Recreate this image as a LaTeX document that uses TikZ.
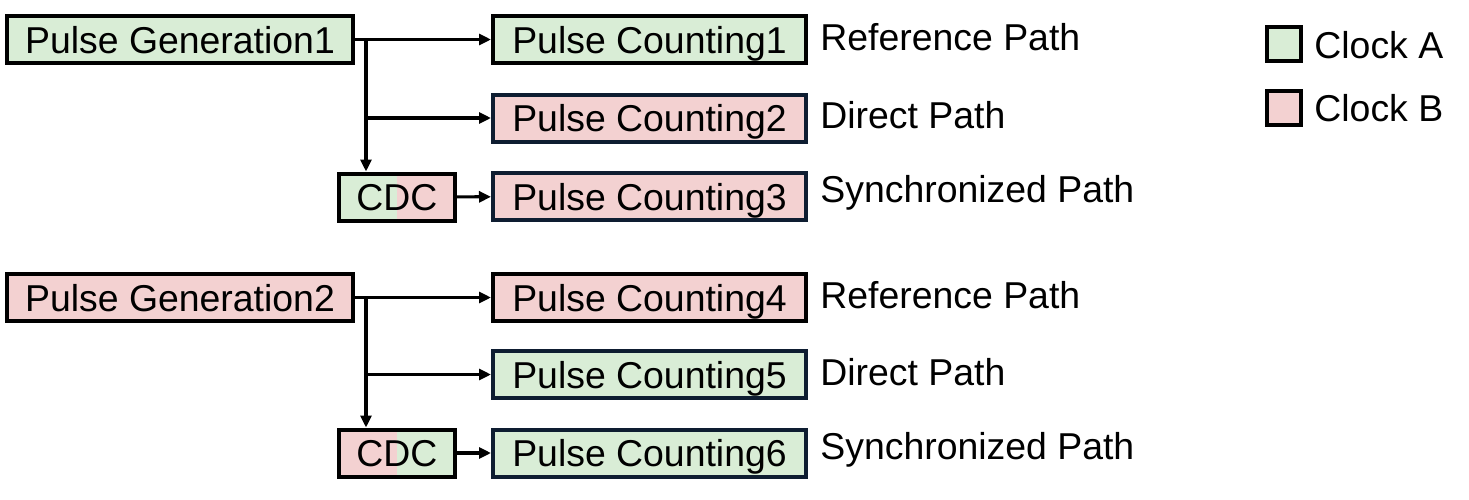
\documentclass[tikz,border=0pt]{standalone}
\usepackage{fontspec}
\setmainfont{Liberation Sans}
\usetikzlibrary{arrows.meta}
\definecolor{clkA}{HTML}{D9EDD6}
\definecolor{clkB}{HTML}{F3D1D1}
\definecolor{navy}{HTML}{0E1D31}
\begin{document}
\begin{tikzpicture}[x = 0.5pt, y = -0.5pt,
    box/.style  = {draw, line width = 2pt, inner sep = 0pt, minimum height = 23.5pt,
                   text height = 15.5pt, text depth = 2pt,
                   font = \fontsize{18.7}{22}\selectfont},
    gen/.style  = {box, minimum width = 173pt},
    cnt/.style  = {box, minimum width = 156.5pt},
    cdcA/.style = {box, minimum width = 58pt, path picture = {
                   \fill[clkA] (path picture bounding box.south west) rectangle (path picture bounding box.north);
                   \fill[clkB] (path picture bounding box.north) rectangle (path picture bounding box.south east);}},
    cdcB/.style = {box, minimum width = 58pt, path picture = {
                   \fill[clkB] (path picture bounding box.south west) rectangle (path picture bounding box.north);
                   \fill[clkA] (path picture bounding box.north) rectangle (path picture bounding box.south east);}},
    key/.style  = {draw, line width = 2pt, minimum width = 17pt, minimum height = 17pt, inner sep = 0pt},
    lbl/.style  = {anchor = west, inner sep = 0pt, font = \fontsize{18.7}{22}\selectfont},
    link/.style = {-{Triangle[length = 6pt, width = 5.5pt]}, line width = 1.6pt}]
  \useasboundingbox (0,0) rectangle (1469,499);

  % clock A source
  \node[gen, fill = clkA]             at (180,   39.5) (gen1) {Pulse Generation1};
  \node[cnt, fill = clkA]             at (649.5, 39.5) (cnt1) {Pulse Counting1};
  \node[cnt, fill = clkB, draw = navy] at (649.5, 118 ) (cnt2) {Pulse Counting2};
  \node[cnt, fill = clkB, draw = navy] at (649.5, 196.5) (cnt3) {Pulse Counting3};
  \node[cdcA]                         at (397,   197 ) (cdc1) {CDC};
  \coordinate (br1) at (366, 39.5);

  \draw[link] (gen1) -- (cnt1);
  \draw[link, line cap = rect] (br1) -- (br1 |- cdc1.north);
  \draw[link] (br1 |- cnt2) -- (cnt2.west);
  \draw[link] (cdc1) -- (cnt3);

  \node[lbl] at (820, 37 ) (ref1) {Reference Path};
  \node[lbl] at (820, 115) (dir1) {Direct Path};
  \node[lbl] at (820, 193) (syn1) {Synchronized Path};

  % clock B source
  \node[gen, fill = clkB]             at (180,   297.5) (gen2) {Pulse Generation2};
  \node[cnt, fill = clkB]             at (649.5, 297.5) (cnt4) {Pulse Counting4};
  \node[cnt, fill = clkA, draw = navy] at (649.5, 374.5) (cnt5) {Pulse Counting5};
  \node[cnt, fill = clkA, draw = navy] at (649.5, 453 ) (cnt6) {Pulse Counting6};
  \node[cdcB]                         at (397,   453 ) (cdc2) {CDC};
  \coordinate (br2) at (366, 297.5);

  \draw[link] (gen2) -- (cnt4);
  \draw[link, line cap = rect] (br2) -- (br2 |- cdc2.north);
  \draw[link] (br2 |- cnt5) -- (cnt5.west);
  \draw[link] (cdc2) -- (cnt6);

  \node[lbl] at (820, 295) (ref2) {Reference Path};
  \node[lbl] at (820, 372) (dir2) {Direct Path};
  \node[lbl] at (820, 450) (syn2) {Synchronized Path};

  % legend
  \node[key, fill = clkA] at (1284, 44   ) (keyA) {};
  \node[key, fill = clkB] at (1284, 107.5) (keyB) {};
  \node[lbl] at (1314, 45 ) (txtA) {Clock A};
  \node[lbl] at (1314, 108) (txtB) {Clock B};
\end{tikzpicture}
\end{document}
